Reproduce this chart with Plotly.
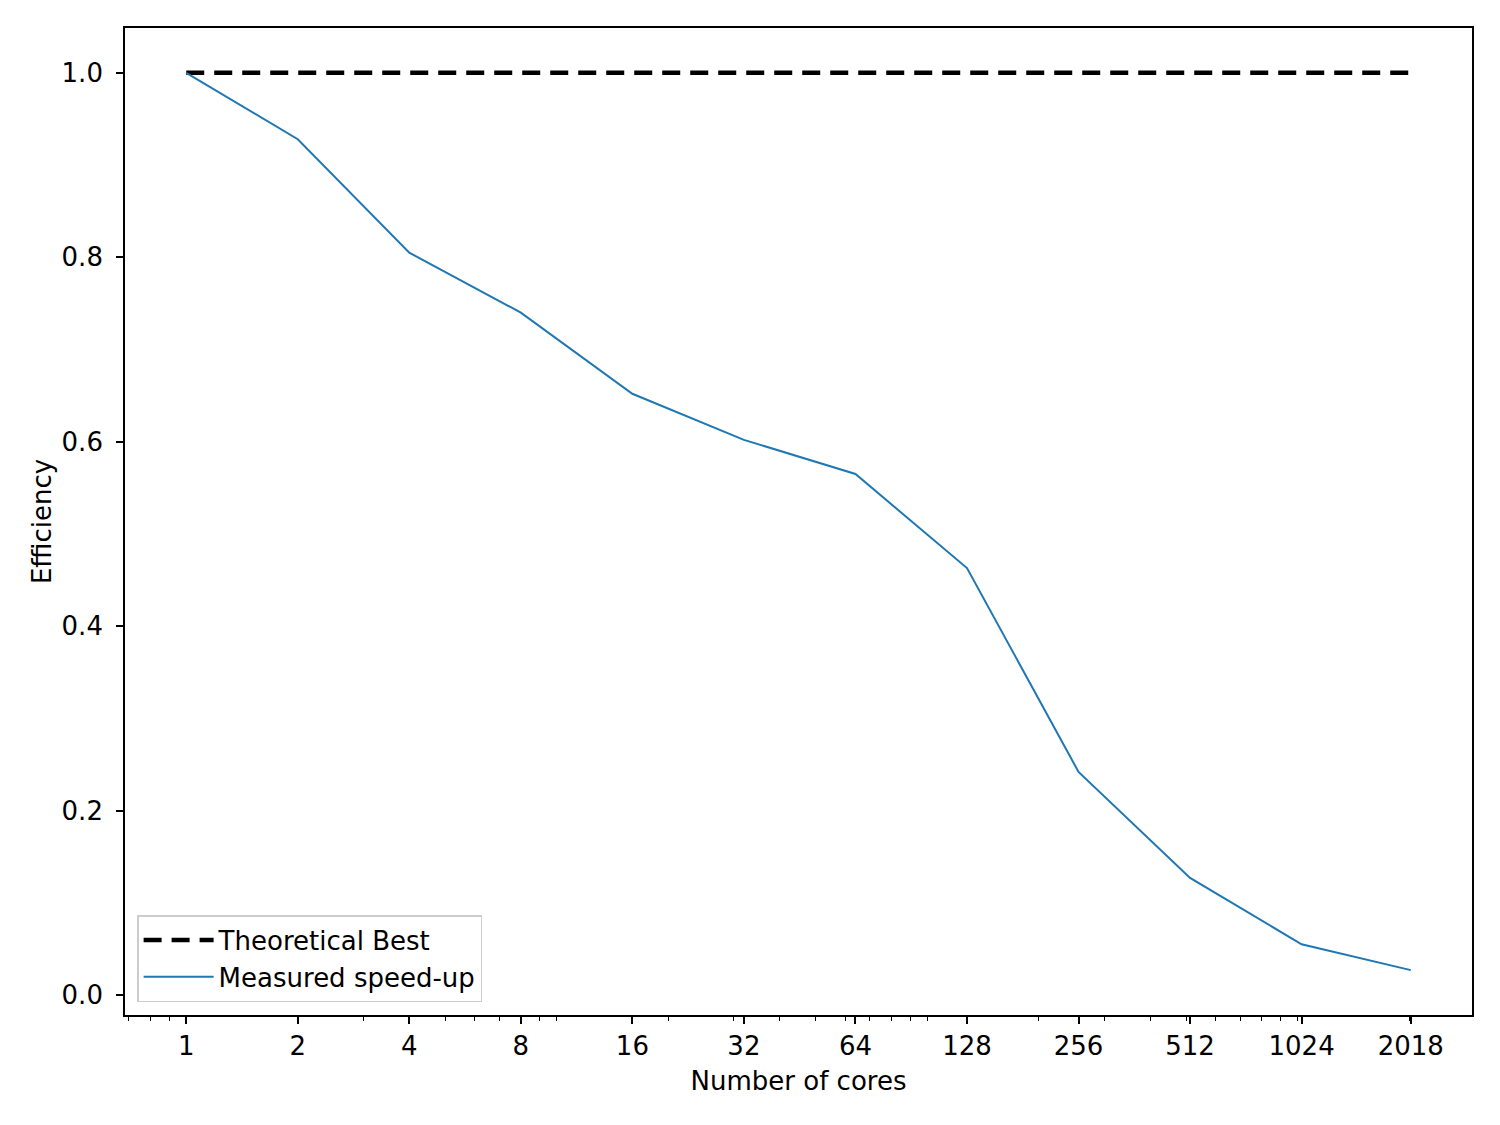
import math
import plotly.graph_objects as go

cores = [1, 2, 4, 8, 16, 32, 64, 128, 256, 512, 1024, 2018]
tick_labels = ["1", "2", "4", "8", "16", "32", "64", "128", "256", "512", "1024", "2018"]
theoretical = [1.0] * len(cores)
measured = [1.0, 0.928, 0.805, 0.740, 0.652, 0.602, 0.565, 0.463, 0.242, 0.127, 0.055, 0.027]

minor_vals = [0.7, 0.8, 0.9, 3, 5, 6, 7, 9, 10, 20, 30, 40, 50, 60, 70, 80, 90, 100,
              200, 300, 400, 500, 600, 700, 800, 900, 1000, 2000, 3000]

font = "DejaVu Sans, Liberation Sans, sans-serif"
FS = 26

fig = go.Figure()
fig.add_trace(go.Scatter(x=cores, y=theoretical, mode="lines", name="Theoretical Best",
                         line=dict(color="black", width=4.5, dash="18px,10px")))
fig.add_trace(go.Scatter(x=cores, y=measured, mode="lines", name="Measured speed-up",
                         line=dict(color="#1f77b4", width=2)))

lo = math.log2(cores[0]); hi = math.log2(cores[-1])
pad = (hi - lo) * 0.05
xr = [(lo - pad) * math.log10(2), (hi + pad) * math.log10(2)]
ymin, ymax = min(measured + theoretical), max(measured + theoretical)
ypad = (ymax - ymin) * 0.05

fig.update_layout(
    width=1500, height=1125,
    paper_bgcolor="white", plot_bgcolor="white",
    margin=dict(l=117, r=36, t=20, b=118),
    font=dict(family=font, size=FS, color="black"),
    showlegend=True,
    legend=dict(x=0.009, y=0.013, xanchor="left", yanchor="bottom",
                bordercolor="#cccccc", borderwidth=1.5, bgcolor="rgba(255,255,255,0.8)",
                font=dict(family=font, size=FS, color="black"), itemwidth=70,
                tracegroupgap=8),
)
fig.update_xaxes(
    type="log", range=xr,
    tickmode="array", tickvals=cores, ticktext=tick_labels,
    tickfont=dict(family=font, size=FS, color="black"),
    ticks="outside", ticklen=7, tickwidth=1.7, tickcolor="black",
    showline=True, linecolor="black", linewidth=1.7, mirror=True,
    showgrid=False, zeroline=False,
    minor=dict(tickmode="array", tickvals=minor_vals, ticks="outside", ticklen=4,
               tickwidth=1.2, tickcolor="black", showgrid=False),
    title=dict(text="Number of cores", standoff=12, font=dict(family=font, size=FS, color="black")),
)
fig.update_yaxes(
    range=[ymin - ypad, ymax + ypad],
    tickmode="array", tickvals=[0.0, 0.2, 0.4, 0.6, 0.8, 1.0], tickformat=".1f",
    tickfont=dict(family=font, size=FS, color="black"),
    ticks="outside", ticklen=7, tickwidth=1.7, tickcolor="black", ticklabelstandoff=8,
    showline=True, linecolor="black", linewidth=1.7, mirror=True,
    showgrid=False, zeroline=False,
    title=dict(text="Efficiency", standoff=2, font=dict(family=font, size=FS, color="black")),
)

fig.write_html("out.html")
